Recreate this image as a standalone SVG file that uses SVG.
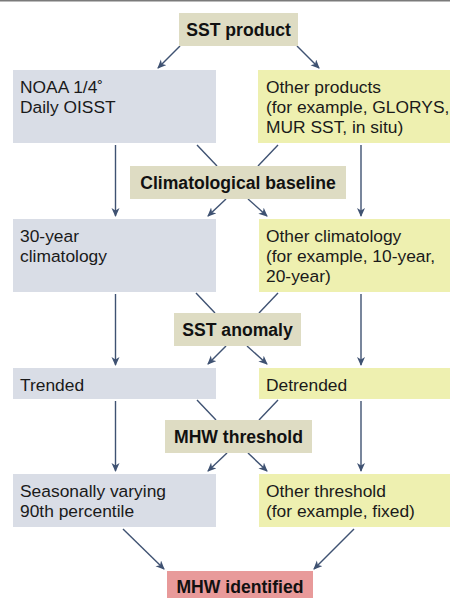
<svg xmlns="http://www.w3.org/2000/svg" width="450" height="598" viewBox="0 0 450 598">
<style>
.t{font-family:"Liberation Sans",Arial,sans-serif;font-size:17.4px;fill:#1a1a1a}
.b{font-family:"Liberation Sans",Arial,sans-serif;font-size:17.6px;font-weight:bold;fill:#111;text-anchor:middle}
.head{fill:#dedcc3}
.grey{fill:#d9dde6}
.yel{fill:#eef0b0}
.red{fill:#e89a9a}
.c line{stroke:#3f5272;stroke-width:1.4;fill:none}
.c .a{marker-end:url(#ah)}
</style>
<defs>
<marker id="ah" markerWidth="10" markerHeight="10" refX="8" refY="4" orient="auto" markerUnits="userSpaceOnUse">
<path d="M0,0 L9,4 L0,8 L2.5,4 Z" fill="#3f5272"/>
</marker>
</defs>
<rect x="0" y="0" width="450" height="1.5" fill="#7a7a7a"/>
<g class="c" id="connectors">
<line class="a" x1="180" y1="46" x2="158" y2="68"/>
<line class="a" x1="297" y1="46" x2="319" y2="68"/>
<line class="a" x1="115.5" y1="145" x2="115.5" y2="216"/>
<line class="a" x1="361" y1="145" x2="361" y2="216"/>
<line x1="197" y1="145" x2="217" y2="166"/>
<line x1="278" y1="145" x2="258" y2="166"/>
<line class="a" x1="226" y1="199" x2="208" y2="216"/>
<line class="a" x1="248" y1="199" x2="267" y2="216"/>
<line class="a" x1="115.5" y1="294" x2="115.5" y2="365"/>
<line class="a" x1="361" y1="294" x2="361" y2="365"/>
<line x1="196" y1="293" x2="215" y2="313"/>
<line x1="278" y1="293" x2="259" y2="313"/>
<line class="a" x1="226" y1="346" x2="208" y2="364"/>
<line class="a" x1="247" y1="346" x2="267" y2="364"/>
<line class="a" x1="115.5" y1="401" x2="115.5" y2="471"/>
<line class="a" x1="361" y1="401" x2="361" y2="471"/>
<line x1="197" y1="400" x2="216" y2="420"/>
<line x1="278" y1="400" x2="259" y2="420"/>
<line class="a" x1="227" y1="453" x2="208" y2="471"/>
<line class="a" x1="248" y1="453" x2="267" y2="471"/>
<line class="a" x1="123" y1="529" x2="164" y2="569"/>
<line class="a" x1="354" y1="529" x2="314" y2="569"/>
</g>
<g id="sst-product">
<rect class="head" x="179" y="13" width="119" height="33"/>
<text class="b" x="238.5" y="35.5">SST product</text>
</g>
<g id="noaa">
<rect class="grey" x="13" y="70" width="203" height="73"/>
<text class="t" x="20" y="93">NOAA 1/4˚</text>
<text class="t" x="20" y="113">Daily OISST</text>
</g>
<g id="other-products">
<rect class="yel" x="258" y="70" width="192" height="73"/>
<text class="t" x="266" y="93">Other products</text>
<text class="t" x="266" y="113">(for example, GLORYS,</text>
<text class="t" x="266" y="133">MUR SST, in situ)</text>
</g>
<g id="climatological-baseline">
<rect class="head" x="130" y="166" width="216" height="33"/>
<text class="b" x="238" y="188.5">Climatological baseline</text>
</g>
<g id="thirty-year">
<rect class="grey" x="13" y="219" width="203" height="73"/>
<text class="t" x="20" y="242">30-year</text>
<text class="t" x="20" y="262">climatology</text>
</g>
<g id="other-climatology">
<rect class="yel" x="259" y="219" width="191" height="73"/>
<text class="t" x="266" y="242">Other climatology</text>
<text class="t" x="266" y="262">(for example, 10-year,</text>
<text class="t" x="266" y="282">20-year)</text>
</g>
<g id="sst-anomaly">
<rect class="head" x="174" y="313" width="127" height="33"/>
<text class="b" x="237.5" y="335.5">SST anomaly</text>
</g>
<g id="trended">
<rect class="grey" x="13" y="368" width="203" height="31"/>
<text class="t" x="20" y="391">Trended</text>
</g>
<g id="detrended">
<rect class="yel" x="259" y="368" width="191" height="31"/>
<text class="t" x="266" y="391">Detrended</text>
</g>
<g id="mhw-threshold">
<rect class="head" x="165" y="420" width="147" height="33"/>
<text class="b" x="238.5" y="443">MHW threshold</text>
</g>
<g id="seasonal">
<rect class="grey" x="13" y="474" width="203" height="53"/>
<text class="t" x="20" y="497">Seasonally varying</text>
<text class="t" x="20" y="517">90th percentile</text>
</g>
<g id="other-threshold">
<rect class="yel" x="259" y="474" width="191" height="53"/>
<text class="t" x="266" y="497">Other threshold</text>
<text class="t" x="266" y="517">(for example, fixed)</text>
</g>
<g id="mhw-identified">
<rect class="red" x="167" y="571" width="146" height="27"/>
<text class="b" x="240" y="593">MHW identified</text>
</g>
</svg>
